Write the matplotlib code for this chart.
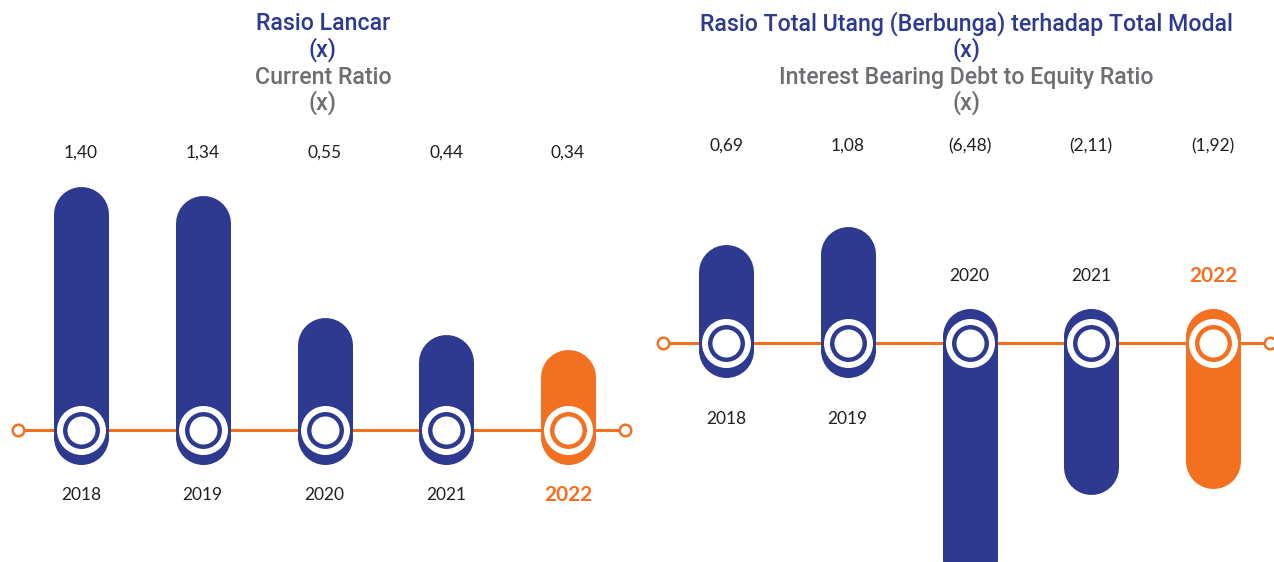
import matplotlib.pyplot as plt
import numpy as np
from matplotlib.transforms import offset_copy

years = ['2018', '2019', '2020', '2021', '2022']
current_ratio = [1.40, 1.34, 0.55, 0.44, 0.34]
current_labels = ['1,40', '1,34', '0,55', '0,44', '0,34']
debt_equity = [0.69, 1.08, -6.48, -2.11, -1.92]
debt_labels = ['0,69', '1,08', '(6,48)', '(2,11)', '(1,92)']

blue = '#2e3a8f'
orange = '#f37021'
grey = '#6d6e71'
dark = '#231f20'

W, H = 1274, 562
fig = plt.figure(figsize=(W / 100, H / 100), dpi=100)
fig.patch.set_facecolor('white')

step = 121.75  # pixels between bars
val_font = dict(family=['Lato', 'DejaVu Sans'], fontsize=12.5, fontweight='normal', color=dark)
title_font = ['Roboto', 'DejaVu Sans']


def draw_panel(ax, values, labels, first_px, left_px, width_px, val_y):
    # x: category index, placed in pixels through xlim
    ax.set_xlim((left_px - first_px) / step, (left_px + width_px - first_px) / step)
    ax.axis('off')
    # baseline
    ax.plot([-0.52, 4.47], [0, 0], color=orange, lw=2.2, zorder=1, solid_capstyle='butt')
    ax.plot([-0.52, 4.47], [0, 0], 'o', ms=8.3, mfc='white', mec=orange, mew=1.8, zorder=1)
    for i, v in enumerate(values):
        c = orange if i == len(values) - 1 else blue
        ax.plot([i, i], [0, v], color=c, lw=39.6, solid_capstyle='round', zorder=2)
        # short tail on the other side of the baseline
        sgn = 1 if v >= 0 else -1
        tr = offset_copy(ax.transData, fig=ax.figure, y=-sgn * 7, units='dots')
        ax.plot(i, 0, 'o', ms=39.6, color=c, mew=0, transform=tr, zorder=2)
        ax.plot(i, 0, 'o', ms=35.3, color='white', mew=0, zorder=3)
        ax.plot(i, 0, 'o', ms=26.6, color=c, mew=0, zorder=4)
        ax.plot(i, 0, 'o', ms=20.2, color='white', mew=0, zorder=5)
        ax.text(i, 1 - val_y / H, labels[i], transform=ax.get_xaxis_transform(),
                ha='center', va='center', **val_font)


def year_labels(ax, ypx_list):
    for i, y in enumerate(years):
        last = i == len(years) - 1
        ax.text(i, 1 - ypx_list[i] / H, y, transform=ax.get_xaxis_transform(),
                ha='center', va='center', family=['Lato', 'DejaVu Sans'],
                fontsize=15 if last else 12.5, fontweight='bold' if last else 'normal',
                color=orange if last else dark)


# left panel: linear scale
axL = fig.add_axes([0, 0, 640 / W, 1])
kL = 154.6  # px per unit
baseL = H - 430
axL.set_ylim(-baseL / kL, (H - baseL) / kL)
draw_panel(axL, current_ratio, current_labels, 81, 0, 640, 153)
year_labels(axL, [495] * 5)

# right panel: square-root scale so the large negative bar stays readable
axR = fig.add_axes([640 / W, 0, 634 / W, 1])
fwd = lambda v: np.sign(v) * np.sqrt(np.abs(v))
inv = lambda v: np.sign(v) * v ** 2
axR.set_yscale('function', functions=(fwd, inv))
kR = 85.2
baseR = H - 343
axR.set_ylim(inv(-baseR / kR), inv((H - baseR) / kR))
draw_panel(axR, debt_equity, debt_labels, 726, 640, 634, 146)
year_labels(axR, [419 if v >= 0 else 276 for v in debt_equity])


def title(xc, lines):
    for (txt, col), ypx in zip(lines, [24, 50, 77, 103]):
        fig.text(xc / W, 1 - ypx / H, txt, ha='center', va='center', color=col,
                 family=title_font, fontsize=16.7, fontweight='medium')


title(323, [('Rasio Lancar', blue), ('(x)', blue), ('Current Ratio', grey), ('(x)', grey)])
title(966, [('Rasio Total Utang (Berbunga) terhadap Total Modal', blue), ('(x)', blue),
            ('Interest Bearing Debt to Equity Ratio', grey), ('(x)', grey)])

fig.savefig('out.png', dpi=100, facecolor='white')
